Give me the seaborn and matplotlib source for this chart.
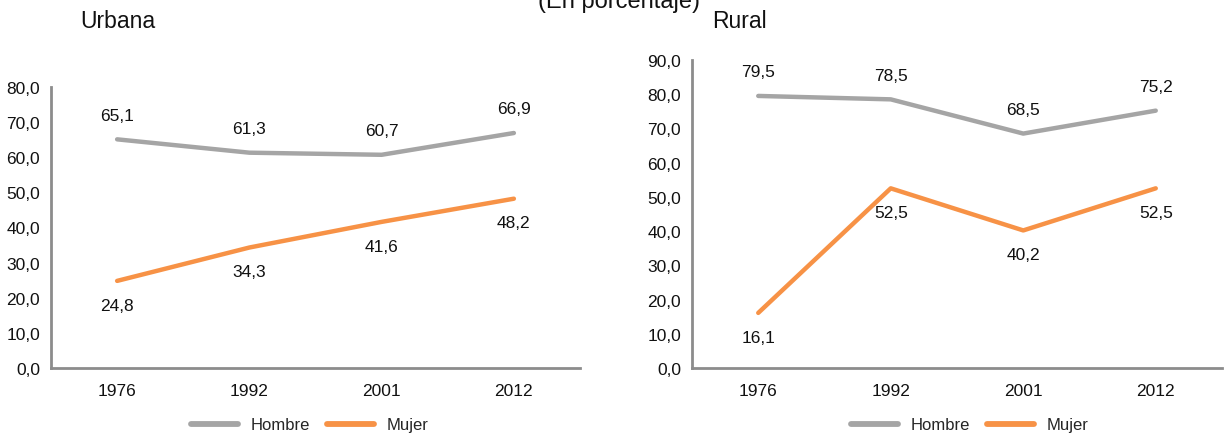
import pandas as pd
import numpy as np
import seaborn as sns
import matplotlib.pyplot as plt
from matplotlib.ticker import FixedLocator

# data
years = ['1976', '1992', '2001', '2012']
urbana_hombre = [65.1, 61.3, 60.7, 66.9]
urbana_mujer = [24.8, 34.3, 41.6, 48.2]
rural_hombre = [79.5, 78.5, 68.5, 75.2]
rural_mujer = [16.1, 52.5, 40.2, 52.5]

gray = '#A5A5A5'
orange = '#F79246'
axis_color = '#8C8C8C'

sns.set_style('white')
plt.rcParams['font.family'] = ['Liberation Sans Narrow', 'Liberation Sans', 'DejaVu Sans']


def long_table(hombre, mujer):
    '''
    build a long table of the two series for one area
    '''
    df_h = pd.DataFrame({'year': years, 'value': hombre, 'sexo': 'Hombre'})
    df_m = pd.DataFrame({'year': years, 'value': mujer, 'sexo': 'Mujer'})
    return pd.concat([df_h, df_m], ignore_index=True)


def draw_panel(ax, table, ymax, title, title_x, legend_x):
    '''
    draw one line panel with value labels and a legend below it
    '''
    sns.lineplot(data=table, x='year', y='value', hue='sexo', sort=False,
                 palette={'Hombre': gray, 'Mujer': orange}, linewidth=3.2,
                 solid_capstyle='round', ax=ax)

    ax.set_xlim(-0.5, len(years) - 0.5)
    ax.set_ylim(0, ymax)
    ax.set_yticks(np.arange(0, ymax + 1, 10))
    ax.set_yticklabels([f'{v:.1f}'.replace('.', ',') for v in np.arange(0, ymax + 1, 10)])
    ax.xaxis.set_minor_locator(FixedLocator(np.arange(-0.5, len(years), 1.0)))
    ax.tick_params(axis='x', which='major', length=0, pad=11, labelsize=12.5, labelcolor='#111111')
    ax.tick_params(axis='x', which='minor', length=5, width=2, color=axis_color)
    ax.tick_params(axis='y', length=5, width=1.5, color=axis_color, labelsize=12.5, pad=3,
                   labelcolor='#111111')
    ax.set_xlabel('')
    ax.set_ylabel('')
    for side in ['top', 'right']:
        ax.spines[side].set_visible(False)
    for side in ['left', 'bottom']:
        ax.spines[side].set_color(axis_color)
        ax.spines[side].set_linewidth(2)

    # value labels
    hombre = table[table['sexo'] == 'Hombre']['value'].tolist()
    mujer = table[table['sexo'] == 'Mujer']['value'].tolist()
    for i, v in enumerate(hombre):
        ax.annotate(f'{v:.1f}'.replace('.', ','), (i, v), xytext=(0, 12),
                    textcoords='offset points', ha='center', va='bottom', fontsize=12.5,
                    color='#111111')
    for i, v in enumerate(mujer):
        ax.annotate(f'{v:.1f}'.replace('.', ','), (i, v), xytext=(0, -12),
                    textcoords='offset points', ha='center', va='top', fontsize=12.5,
                    color='#111111')

    fig = ax.figure
    fig.text(title_x, 1 - 22 / 435, title, fontsize=16.5, ha='left', va='center', color='#111111')

    handles, labels = ax.get_legend_handles_labels()
    leg = ax.legend(handles, labels, loc='center', bbox_to_anchor=(legend_x, 1 - 426 / 435),
                    bbox_transform=fig.transFigure, ncol=2, frameon=False, fontsize=12,
                    handlelength=2.8, columnspacing=1.0, handletextpad=0.8)
    for line in leg.get_lines():
        line.set_linewidth(4.2)
        line.set_solid_capstyle('round')


fig = plt.figure(figsize=(12.25, 4.35), dpi=100)
ax_urb = fig.add_axes([51 / 1225, 1 - 369 / 435, (580 - 51) / 1225, (369 - 88) / 435])
ax_rur = fig.add_axes([692 / 1225, 1 - 369 / 435, (1222 - 692) / 1225, (369 - 61) / 435])

draw_panel(ax_urb, long_table(urbana_hombre, urbana_mujer), 80, 'Urbana', 80 / 1225, 310 / 1225)
draw_panel(ax_rur, long_table(rural_hombre, rural_mujer), 90, 'Rural', 712 / 1225, 970 / 1225)

fig.text(619 / 1225, 1 - 13 / 435, '(En porcentaje)', fontsize=17, ha='center', va='bottom',
         color='#111111')

fig.savefig('out.png', dpi=100)
plt.close(fig)
